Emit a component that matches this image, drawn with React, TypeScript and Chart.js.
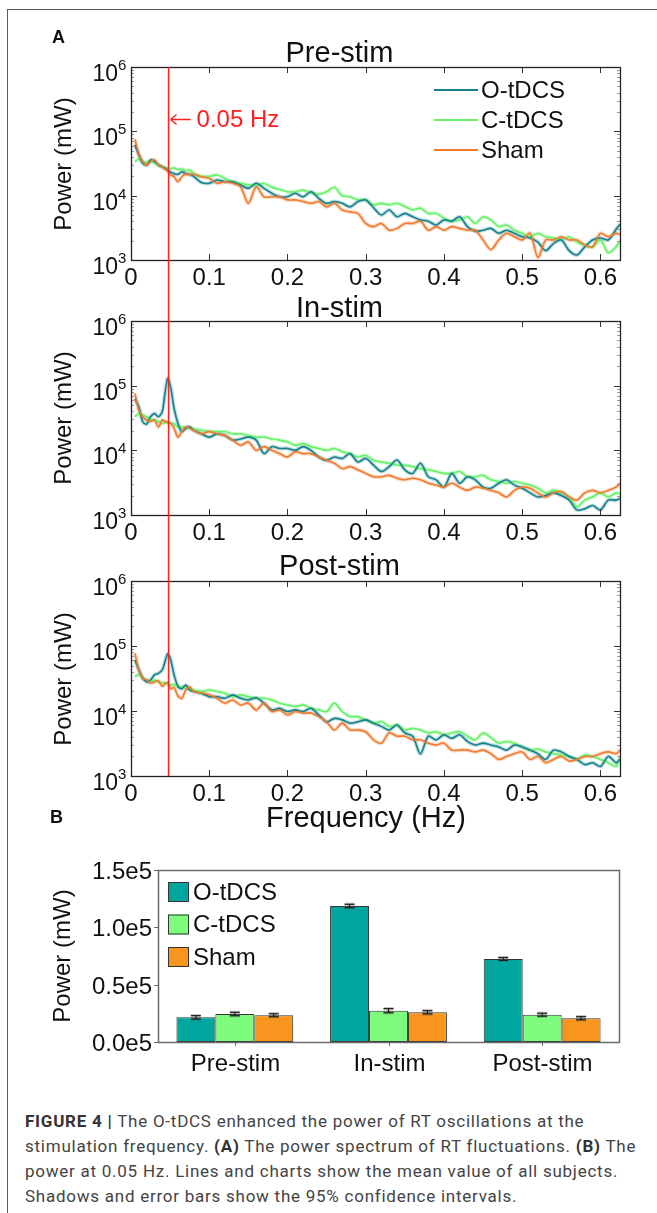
import React, { useEffect, useRef } from 'react';
import { Chart, registerables } from 'chart.js';

Chart.register(...registerables);

const FONT = '"Liberation Sans", Arial, Helvetica, sans-serif';

// ---------- Panel A: power spectra (values in 10^3 mW) ----------
const FREQ = [
  0.005, 0.01, 0.015, 0.02, 0.025, 0.03, 0.035, 0.04, 0.043, 0.047, 0.051, 0.055, 0.06, 0.065, 0.07, 0.075, 0.08,
  0.09, 0.1,
  0.11, 0.12, 0.13, 0.14, 0.15, 0.16, 0.17, 0.18, 0.19, 0.2,
  0.21, 0.22, 0.23, 0.24, 0.25, 0.26, 0.27, 0.28, 0.29, 0.3,
  0.31, 0.32, 0.33, 0.34, 0.35, 0.36, 0.37, 0.38, 0.39, 0.4,
  0.41, 0.42, 0.43, 0.44, 0.45, 0.46, 0.47, 0.48, 0.49, 0.5,
  0.51, 0.52, 0.53, 0.54, 0.55, 0.56, 0.57, 0.58, 0.59, 0.6,
  0.61, 0.62, 0.625,
];

const PRE_O = [
  62, 43, 32, 30, 36, 34, 30, 28, 27, 25, 23, 22, 21.5, 23.5, 22, 21.5, 20,
  16, 15.6,
  17.5, 16.5, 16.5, 14.7, 13, 15.6, 13, 10.9, 9.6, 9.6,
  10.9, 9.6, 11.5, 9.1, 7.6, 8.1, 7.6, 6.7, 8.1, 8.6,
  6.5, 5.0, 6.0, 4.7, 5.3, 4.7, 4.2, 4.0, 3.5, 4.2,
  4.0, 4.7, 3.3, 2.8, 2.9, 3.1, 2.6, 2.9, 2.6, 2.3,
  2.2, 1.9, 1.4, 1.8, 2.05, 1.4, 1.2, 1.6, 2.05, 2.2,
  2.05, 3.0, 3.6,
];
const PRE_C = [
  34, 37, 34, 33, 34, 32, 30, 28, 27.5, 27, 26.5, 27, 25.5, 26, 24.5, 25, 22,
  20, 20,
  21, 18.6, 16.5, 15.6, 14.7, 14.5, 15.5, 13.5, 12.5, 11.5,
  11.5, 12.2, 11.0, 10.5, 11.5, 13.5, 10.0, 9.6, 8.6, 8.6,
  7.2, 7.6, 7.2, 7.6, 6.8, 6.0, 6.4, 5.3, 5.3, 4.5,
  4.0, 4.2, 4.7, 3.7, 4.7, 4.2, 3.3, 3.5, 2.9, 2.6,
  2.3, 2.6, 2.3, 2.2, 2.05, 2.3, 1.9, 1.7, 1.6, 2.05,
  1.3, 1.6, 2.0,
];
const PRE_S = [
  75, 45, 34, 30, 34, 36, 30, 28, 26, 24, 21, 19.7, 16.5, 19.7, 22, 21, 21.5,
  19.7, 18.6,
  15.6, 16.5, 15.6, 13.8, 7.6, 13.8, 9.6, 9.6, 9.6, 8.6,
  8.6, 8.1, 7.6, 8.1, 6.7, 7.6, 6.0, 5.6, 5.3, 3.7,
  3.3, 3.7, 2.9, 3.1, 3.7, 3.7, 4.0, 2.9, 3.3, 2.9,
  3.3, 3.1, 2.9, 2.9, 2.05, 1.45, 2.05, 2.6, 2.3, 2.05,
  2.6, 1.1, 2.05, 2.05, 2.3, 2.05, 2.05, 1.7, 1.6, 2.6,
  2.3, 2.6, 2.5,
];

const IN_O = [
  63, 47, 27.5, 25.5, 33, 37, 33, 40, 70, 130, 90, 45, 26, 19.5, 22, 23, 20.5,
  18, 16,
  18, 17, 14.4, 15, 16, 14.4, 8.9, 11.4, 10.7, 10.7,
  10, 11.4, 10, 7.9, 7.0, 7.9, 7.5, 8.9, 6.6, 7.5,
  5.9, 4.7, 5.6, 7.1, 5.0, 4.4, 6.3, 3.9, 3.5, 2.7,
  4.4, 3.1, 3.9, 3.5, 2.7, 2.6, 3.1, 3.5, 2.9, 2.6,
  2.2, 1.9, 2.0, 2.2, 2.0, 1.7, 1.2, 1.25, 1.4, 1.2,
  1.7, 1.7, 1.8,
];
const IN_C = [
  33, 37, 35, 33, 29.5, 29.5, 28, 26, 27, 27, 26.5, 25.5, 23, 23, 22, 22, 21.5,
  20.5, 19.5,
  19.5, 19.5, 18, 18, 17, 16, 16, 15, 14.4, 13.5,
  12, 12.7, 11.4, 10.7, 10, 10.7, 9.5, 8.9, 7.9, 8.4,
  7.0, 6.6, 6.3, 5.9, 5.9, 5.6, 5.2, 5.0, 4.7, 4.4,
  4.4, 4.7, 3.9, 3.9, 4.1, 3.5, 3.3, 3.1, 3.3, 3.1,
  2.9, 2.6, 2.2, 2.4, 2.2, 1.9, 1.35, 1.7, 1.9, 2.2,
  1.9, 2.2, 2.1,
];
const IN_S = [
  76, 42, 33, 29.5, 28, 29.5, 23, 29.5, 28, 27, 26, 22, 16, 19.5, 23, 22, 20.5,
  18, 19.5,
  18, 17, 14.4, 12, 13.5, 10, 11.4, 10, 8.9, 7.9,
  9.5, 8.9, 8.9, 7.9, 7.0, 6.3, 5.2, 5.6, 5.0, 4.4,
  3.9, 3.9, 4.1, 3.7, 3.5, 3.7, 3.5, 3.1, 2.9, 2.7,
  3.1, 2.7, 2.4, 2.7, 2.6, 2.4, 2.2, 1.9, 2.4, 2.7,
  2.6, 2.2, 1.9, 2.2, 2.3, 1.9, 1.7, 2.2, 2.4, 2.2,
  2.4, 2.7, 3.1,
];

const POST_O = [
  61, 43, 32, 28, 30, 36, 38, 43, 55, 76, 60, 36, 24, 22, 25, 21, 20,
  18.7, 16.6,
  16.6, 15.7, 17.7, 15.7, 14.8, 16, 13.2, 10.4, 11, 9.8,
  10.4, 9.8, 11, 8.7, 6.8, 7.7, 7.3, 6.5, 6.8, 7.3,
  6.5, 5.8, 5.1, 6.1, 4.6, 4.1, 2.2, 4.1, 3.6, 4.3,
  3.8, 4.3, 3.4, 3.0, 3.2, 3.0, 2.8, 2.5, 3.0, 2.8,
  2.5, 2.2, 1.8, 2.5, 2.35, 2.0, 1.8, 1.5, 1.6, 1.4,
  2.0, 1.6, 1.8,
];
const POST_C = [
  34, 36, 32, 30, 28, 30, 28, 27, 27.5, 26, 25, 25.5, 23.5, 23.5, 22.5, 22, 21,
  20, 21,
  20, 18.7, 16.6, 17.7, 16.6, 15.7, 15.7, 14.8, 13.2, 12.4,
  11.7, 12.4, 11, 10.4, 9.8, 13.2, 9.8, 8.2, 8.2, 7.3,
  6.5, 6.9, 5.8, 6.1, 5.1, 5.4, 5.1, 4.6, 4.8, 4.3,
  4.6, 4.8, 4.1, 3.6, 4.6, 3.9, 3.2, 3.4, 3.2, 2.8,
  2.5, 2.6, 2.35, 2.2, 2.1, 2.0, 1.8, 2.1, 2.0, 1.8,
  1.6, 1.4, 2.0,
];
const POST_S = [
  77, 43, 32, 30, 27, 28, 29, 24, 26, 27, 22, 23, 17, 15.6, 21, 23.5, 20,
  19, 17.8,
  15.7, 13.2, 14.8, 12.4, 13.2, 10.4, 13.2, 9.8, 10.4, 8.7,
  9.8, 9.3, 9.3, 8.2, 6.8, 5.1, 6.5, 5.1, 5.1, 4.8,
  3.6, 3.2, 4.6, 4.1, 4.1, 3.6, 3.6, 3.2, 3.0, 3.2,
  2.5, 2.5, 2.5, 2.35, 2.5, 2.2, 1.8, 2.0, 2.2, 2.35,
  1.8, 2.0, 1.6, 1.8, 2.0, 1.7, 1.8, 2.0, 2.0, 2.2,
  2.35, 2.2, 2.5,
];

const SERIES_NAMES = ['O-tDCS', 'C-tDCS', 'Sham'];
const LINE_COLORS = ['#16808c', '#66f266', '#f07a2e'];
const HALO_COLORS = ['rgba(22,128,140,0.28)', 'rgba(102,242,102,0.28)', 'rgba(240,122,46,0.28)'];
const LINE_ORDER = [1, 2, 0];

const X_TICKS = [0, 0.1, 0.2, 0.3, 0.4, 0.5, 0.6];
const X_TICK_LABELS = ['0', '0.1', '0.2', '0.3', '0.4', '0.5', '0.6'];
const Y_DECADES = [1e3, 1e4, 1e5, 1e6];
const Y_EXPONENTS = ['3', '4', '5', '6'];
const MINOR_STEPS = [2, 3, 4, 5, 6, 7, 8, 9];
const MARKER_FREQ = 0.048;
const MARKER_LABEL = '0.05 Hz';

// ---------- Panel B: power at 0.05 Hz ----------
const BAR_CATEGORIES = ['Pre-stim', 'In-stim', 'Post-stim'];
const BAR_O = [21500, 118600, 72400];
const BAR_C = [24400, 27300, 23800];
const BAR_S = [23300, 25900, 20700];
const ERR_O = [1500, 1500, 1200];
const ERR_C = [1500, 1800, 1300];
const ERR_S = [1300, 1400, 1400];
const BAR_COLORS = ['#00a69e', '#7dfc7d', '#f7951e'];
const BAR_Y_TICKS = [0, 50000, 100000, 150000];
const BAR_Y_LABELS = ['0.0e5', '0.5e5', '1.0e5', '1.5e5'];

function linePlugin(cfg: any) {
  return {
    id: 'matlabAxes',
    afterDatasetsDraw(chart: any) {
      const { ctx, chartArea: a, scales } = chart;
      const xs = scales.x;
      const ys = scales.y;
      ctx.save();
      // minor ticks
      ctx.strokeStyle = '#9a9a9a';
      ctx.lineWidth = 1;
      ctx.beginPath();
      for (let d = 0; d < Y_DECADES.length - 1; d++) {
        for (const m of MINOR_STEPS) {
          const py = Math.round(ys.getPixelForValue(Y_DECADES[d] * m)) + 0.5;
          ctx.moveTo(a.left, py); ctx.lineTo(a.left + 3, py);
          ctx.moveTo(a.right, py); ctx.lineTo(a.right - 3, py);
        }
      }
      ctx.stroke();
      // major ticks
      ctx.strokeStyle = '#333';
      ctx.beginPath();
      for (const d of Y_DECADES) {
        const py = Math.round(ys.getPixelForValue(d)) + 0.5;
        ctx.moveTo(a.left, py); ctx.lineTo(a.left + 6, py);
        ctx.moveTo(a.right, py); ctx.lineTo(a.right - 6, py);
      }
      for (const v of X_TICKS) {
        const px = Math.round(xs.getPixelForValue(v)) + 0.5;
        ctx.moveTo(px, a.bottom); ctx.lineTo(px, a.bottom - 6);
        ctx.moveTo(px, a.top); ctx.lineTo(px, a.top + 6);
      }
      ctx.stroke();
      // box
      ctx.strokeStyle = '#222';
      ctx.lineWidth = 1.3;
      ctx.strokeRect(Math.round(a.left) + 0.5, Math.round(a.top) + 0.5, Math.round(a.right - a.left), Math.round(a.bottom - a.top));
      // red marker line
      const rx = xs.getPixelForValue(MARKER_FREQ);
      ctx.strokeStyle = '#ff1e1e';
      ctx.lineWidth = 1.5;
      ctx.beginPath();
      ctx.moveTo(rx, cfg.redFromArea ? a.top : 0);
      ctx.lineTo(rx, cfg.redToArea ? a.bottom : chart.height);
      ctx.stroke();
      // x labels
      ctx.fillStyle = '#111';
      ctx.font = `24px ${FONT}`;
      ctx.textAlign = 'center';
      ctx.textBaseline = 'top';
      X_TICKS.forEach((v, i) => {
        ctx.fillText(X_TICK_LABELS[i], xs.getPixelForValue(v), a.bottom + 6);
      });
      // y labels 10^n
      ctx.textBaseline = 'alphabetic';
      Y_DECADES.forEach((d, i) => {
        const py = ys.getPixelForValue(d);
        ctx.font = `23px ${FONT}`;
        ctx.textAlign = 'right';
        ctx.fillText('10', a.left - 13, py + 14);
        ctx.font = `15px ${FONT}`;
        ctx.textAlign = 'left';
        ctx.fillText(Y_EXPONENTS[i], a.left - 13, py + 3);
      });
      // legend
      if (cfg.legend) {
        const lx = a.right - 186;
        SERIES_NAMES.forEach((name, i) => {
          const ly = a.top + 23 + i * 30;
          ctx.strokeStyle = LINE_COLORS[i];
          ctx.lineWidth = 2;
          ctx.beginPath();
          ctx.moveTo(lx, ly); ctx.lineTo(lx + 44, ly);
          ctx.stroke();
          ctx.fillStyle = '#111';
          ctx.font = `24px ${FONT}`;
          ctx.textAlign = 'left';
          ctx.textBaseline = 'middle';
          ctx.fillText(name, lx + 47, ly + 1);
        });
      }
      // marker annotation
      if (cfg.markerLabel) {
        ctx.fillStyle = '#ff1e1e';
        ctx.textBaseline = 'middle';
        ctx.font = `24px ${FONT}`;
        ctx.textAlign = 'left';
        ctx.fillText(MARKER_LABEL, rx + 28, a.top + 53);
        // arrow pointing at the marker line
        const ay = Math.round(a.top + 52) + 0.5;
        ctx.strokeStyle = '#ff1e1e';
        ctx.lineWidth = 1.3;
        ctx.beginPath();
        ctx.moveTo(rx + 2, ay); ctx.lineTo(rx + 22, ay);
        ctx.moveTo(rx + 2, ay); ctx.lineTo(rx + 8, ay - 5);
        ctx.moveTo(rx + 2, ay); ctx.lineTo(rx + 8, ay + 5);
        ctx.stroke();
      }
      ctx.restore();
    },
  };
}

function LinePanel(props: any) {
  const { top, height, padTop, padBottom, series, redFromArea, redToArea, legend, markerLabel } = props;
  const ref = useRef<HTMLCanvasElement>(null);
  useEffect(() => {
    const datasets: any[] = [];
    series.forEach((vals: number[], i: number) => {
      const pts = FREQ.map((f, k) => ({ x: f, y: vals[k] * 1000 }));
      datasets.push({
        label: SERIES_NAMES[i] + ' CI', data: pts, borderColor: HALO_COLORS[i], borderWidth: 4,
        pointRadius: 0, tension: 0.3, order: 10 + i, fill: false,
      });
      datasets.push({
        label: SERIES_NAMES[i], data: pts, borderColor: LINE_COLORS[i], borderWidth: 1.6,
        pointRadius: 0, tension: 0.3, order: LINE_ORDER[i], fill: false,
      });
    });
    const chart = new Chart(ref.current as HTMLCanvasElement, {
      type: 'line',
      data: { datasets },
      options: {
        animation: false,
        responsive: false,
        maintainAspectRatio: false,
        events: [],
        layout: { padding: { left: 131, right: 37, top: padTop, bottom: padBottom } },
        scales: {
          x: { type: 'linear', min: 0, max: 0.625, display: false },
          y: { type: 'logarithmic', min: 1000, max: 1000000, display: false },
        },
        plugins: { legend: { display: false }, tooltip: { enabled: false }, title: { display: false } },
      },
      plugins: [linePlugin({ redFromArea, redToArea, legend, markerLabel })],
    } as any);
    return () => chart.destroy();
  }, []);
  return (
    <canvas ref={ref} width={657} height={height}
      style={{ position: 'absolute', left: 0, top, width: 657, height }} />
  );
}

const barPlugin = {
  id: 'barDecor',
  afterDatasetsDraw(chart: any) {
    const { ctx, chartArea: a, scales } = chart;
    const xs = scales.x;
    const ys = scales.y;
    const errs = [ERR_O, ERR_C, ERR_S];
    ctx.save();
    // error bars
    chart.data.datasets.forEach((ds: any, i: number) => {
      const meta = chart.getDatasetMeta(i);
      meta.data.forEach((bar: any, j: number) => {
        const v = ds.data[j];
        const e = errs[i][j];
        const yt = ys.getPixelForValue(v + e);
        const yb = ys.getPixelForValue(v - e);
        const cx = bar.x;
        const draw = () => {
          ctx.beginPath();
          ctx.moveTo(cx, yt); ctx.lineTo(cx, yb);
          ctx.moveTo(cx - 5, yt); ctx.lineTo(cx + 5, yt);
          ctx.moveTo(cx - 5, yb); ctx.lineTo(cx + 5, yb);
          ctx.stroke();
        };
        ctx.strokeStyle = 'rgba(90,90,90,0.45)';
        ctx.lineWidth = 3;
        draw();
        ctx.strokeStyle = '#111';
        ctx.lineWidth = 1;
        draw();
      });
    });
    // box
    ctx.strokeStyle = '#6a6a6a';
    ctx.lineWidth = 1.5;
    ctx.strokeRect(Math.round(a.left) + 0.5, Math.round(a.top) + 0.5, Math.round(a.right - a.left), Math.round(a.bottom - a.top));
    // y ticks + labels
    ctx.fillStyle = '#111';
    ctx.font = `24px ${FONT}`;
    ctx.textAlign = 'right';
    ctx.textBaseline = 'middle';
    ctx.lineWidth = 1;
    BAR_Y_TICKS.forEach((v, i) => {
      const py = Math.round(ys.getPixelForValue(v)) + 0.5;
      ctx.beginPath(); ctx.moveTo(a.left, py); ctx.lineTo(a.left - 4, py); ctx.stroke();
      ctx.fillText(BAR_Y_LABELS[i], a.left - 6, py + 2);
    });
    // x ticks + labels
    ctx.textAlign = 'center';
    ctx.textBaseline = 'top';
    BAR_CATEGORIES.forEach((c, i) => {
      const px = Math.round(xs.getPixelForValue(i)) + 0.5;
      ctx.beginPath(); ctx.moveTo(px, a.bottom); ctx.lineTo(px, a.bottom + 4); ctx.stroke();
      ctx.fillText(c, px, a.bottom + 10);
    });
    // legend
    SERIES_NAMES.forEach((name, i) => {
      const sy = a.top + 12 + i * 32.5;
      ctx.fillStyle = BAR_COLORS[i];
      ctx.fillRect(a.left + 10, sy, 21, 20);
      ctx.strokeStyle = '#333';
      ctx.lineWidth = 1;
      ctx.strokeRect(a.left + 10.5, sy + 0.5, 20, 19);
      ctx.fillStyle = '#111';
      ctx.textAlign = 'left';
      ctx.textBaseline = 'middle';
      ctx.fillText(name, a.left + 35, sy + 11);
    });
    ctx.restore();
  },
};

function BarPanel() {
  const ref = useRef<HTMLCanvasElement>(null);
  useEffect(() => {
    const vals = [BAR_O, BAR_C, BAR_S];
    const chart = new Chart(ref.current as HTMLCanvasElement, {
      type: 'bar',
      data: {
        labels: BAR_CATEGORIES,
        datasets: vals.map((v, i) => ({
          label: SERIES_NAMES[i], data: v, backgroundColor: BAR_COLORS[i], borderColor: '#333',
          borderWidth: 1, borderSkipped: false, categoryPercentage: 0.76, barPercentage: 1.0,
        })),
      },
      options: {
        animation: false,
        responsive: false,
        maintainAspectRatio: false,
        events: [],
        layout: { padding: { left: 158, right: 38, top: 20, bottom: 48 } },
        scales: {
          x: { type: 'category', display: false },
          y: { type: 'linear', min: 0, max: 150000, display: false },
        },
        plugins: { legend: { display: false }, tooltip: { enabled: false }, title: { display: false } },
      },
      plugins: [barPlugin],
    } as any);
    return () => chart.destroy();
  }, []);
  return (
    <canvas ref={ref} width={657} height={240}
      style={{ position: 'absolute', left: 0, top: 850, width: 657, height: 240 }} />
  );
}

function Text(props: any) {
  const { x, y, size, bold, children, center, color } = props;
  return (
    <div style={{
      position: 'absolute', left: x, top: y, font: `${bold ? 'bold ' : ''}${size}px ${FONT}`,
      lineHeight: 1, whiteSpace: 'nowrap', color: color || '#111',
      transform: center ? 'translateX(-50%)' : undefined,
    }}>{children}</div>
  );
}

function YTitle({ cx, cy }: any) {
  return (
    <div style={{
      position: 'absolute', left: cx, top: cy, font: `24px ${FONT}`, lineHeight: 1, whiteSpace: 'nowrap',
      color: '#111', transform: 'translate(-50%, -50%) rotate(-90deg)',
    }}>Power (mW)</div>
  );
}

export default function App() {
  return (
    <div style={{ position: 'absolute', left: 0, top: 0, width: 657, height: 1213, overflow: 'hidden', background: '#fff' }}>
      <div style={{ position: 'absolute', left: 7, top: 9, width: 700, height: 1300, borderLeft: '1px solid #5c5c5c', borderTop: '1px solid #5c5c5c' }} />
      <LinePanel top={20} height={270} padTop={47} padBottom={30} series={[PRE_O, PRE_C, PRE_S]}
        redFromArea={true} redToArea={false} legend={true} markerLabel={true} />
      <LinePanel top={290} height={255} padTop={31} padBottom={30} series={[IN_O, IN_C, IN_S]}
        redFromArea={false} redToArea={false} legend={false} markerLabel={false} />
      <LinePanel top={545} height={265} padTop={36} padBottom={34} series={[POST_O, POST_C, POST_S]}
        redFromArea={false} redToArea={true} legend={false} markerLabel={false} />
      <BarPanel />
      <Text x={52} y={27.7} size={18} bold>A</Text>
      <Text x={50} y={807.7} size={18} bold>B</Text>
      <Text x={339.5} y={37.5} size={29} center>Pre-stim</Text>
      <Text x={339.5} y={292.5} size={29} center>In-stim</Text>
      <Text x={339.5} y={550.5} size={29} center>Post-stim</Text>
      <Text x={366} y={802.5} size={29} center>Frequency (Hz)</Text>
      <YTitle cx={63} cy={163.5} />
      <YTitle cx={63} cy={418} />
      <YTitle cx={63} cy={678.5} />
      <YTitle cx={62} cy={956} />
      <div style={{
        position: 'absolute', left: 25, top: 1108.7, width: 628, font: '17px Roboto, "Liberation Sans", sans-serif',
        letterSpacing: '0.75px', lineHeight: '25px', color: '#444',
      }}>
        <b style={{ color: '#333' }}>FIGURE 4 |</b> The O-tDCS enhanced the power of RT oscillations at the stimulation frequency. <b style={{ color: '#333' }}>(A)</b> The power spectrum of RT fluctuations. <b style={{ color: '#333' }}>(B)</b> The power at 0.05 Hz. Lines and charts show the mean value of all subjects. Shadows and error bars show the 95% confidence intervals.
      </div>
    </div>
  );
}
